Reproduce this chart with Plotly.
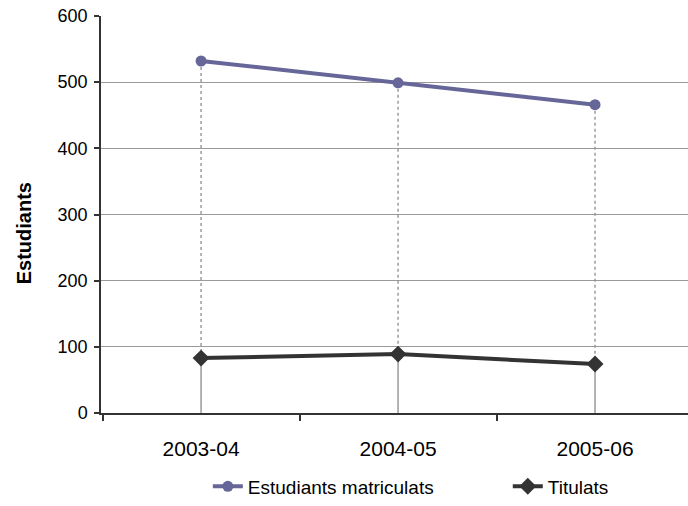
import plotly.graph_objects as go

categories = ["2003-04", "2004-05", "2005-06"]
matriculats = [532, 499, 466]
titulats = [83, 89, 74]
y_ticks = [0, 100, 200, 300, 400, 500, 600]

fig = go.Figure()

# drop lines (Excel-style) from top series down to the titulats point, then to axis
for c, m, t in zip(categories, matriculats, titulats):
    fig.add_trace(go.Scatter(x=[c, c], y=[m, t], mode="lines",
                             line=dict(color="#8c8c8c", width=1.3, dash="dot"),
                             showlegend=False, hoverinfo="skip"))
    fig.add_trace(go.Scatter(x=[c, c], y=[t, 0], mode="lines",
                             line=dict(color="#9a9a9a", width=1.5),
                             showlegend=False, hoverinfo="skip"))

fig.add_trace(go.Scatter(x=categories, y=matriculats, mode="lines+markers",
                         name="Estudiants matriculats", legend="legend",
                         line=dict(color="#666699", width=4),
                         marker=dict(symbol="circle", size=11, color="#666699")))
fig.add_trace(go.Scatter(x=categories, y=titulats, mode="lines+markers",
                         name="Titulats", legend="legend2",
                         line=dict(color="#333333", width=4),
                         marker=dict(symbol="diamond", size=13, color="#333333")))

fig.update_layout(
    width=688, height=506,
    margin=dict(l=101, r=0, t=16, b=87),
    paper_bgcolor="white", plot_bgcolor="white",
    font=dict(family="Liberation Sans, Arial, sans-serif", size=18, color="#000000"),
    legend=dict(orientation="h", x=0.182, xanchor="left", y=-0.185, yanchor="middle",
                font=dict(size=19), bgcolor="rgba(0,0,0,0)"),
    legend2=dict(orientation="h", x=0.693, xanchor="left", y=-0.185, yanchor="middle",
                 font=dict(size=19), bgcolor="rgba(0,0,0,0)"),
    showlegend=True,
    annotations=[dict(text="<b>Estudiants</b>", textangle=-90, xref="paper", yref="paper",
                      x=-0.131, y=0.453, xanchor="center", yanchor="middle",
                      showarrow=False, font=dict(size=20, color="#000000"))],
)
fig.update_xaxes(type="category", range=[-0.508, 2.472], tickson="boundaries",
                 ticks="outside", ticklen=6, tickcolor="#333333", tickwidth=1.5,
                 showline=True, linecolor="#333333", linewidth=1.5,
                 showgrid=False, tickfont=dict(size=21), zeroline=False,
                 automargin=False, ticklabelstandoff=16)
fig.update_yaxes(range=[0, 600], tickvals=y_ticks, ticks="outside", ticklen=5,
                 tickcolor="#333333", tickwidth=1.5, showline=True, linecolor="#333333", linewidth=1.5,
                 showgrid=True, gridcolor="#9a9a9a", gridwidth=1.3, zeroline=False,
                 tickfont=dict(size=18), automargin=False, ticklabelstandoff=3)

fig.write_html("out.html", config={"displayModeBar": False},
               post_script="document.body.style.margin='0';document.body.style.overflow='hidden';")
